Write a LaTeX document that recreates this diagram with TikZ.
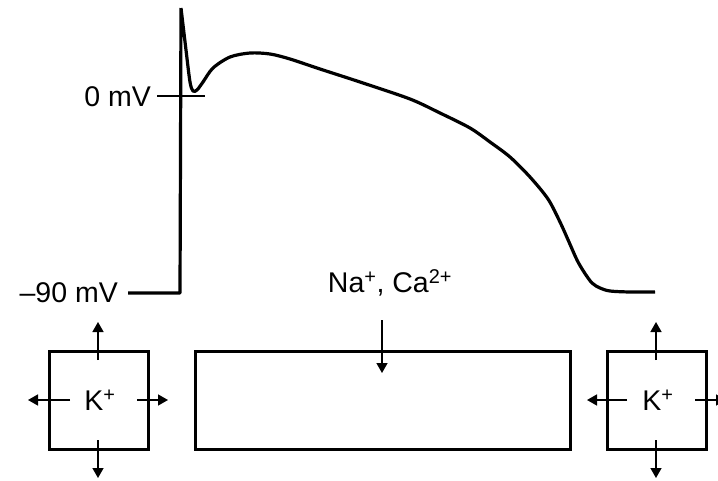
\documentclass[tikz,border=0pt]{standalone}
\usepackage{fontspec}
\setmainfont{Liberation Sans}
\usetikzlibrary{arrows.meta}
\begin{document}
\begin{tikzpicture}[x=1pt,y=-1pt,
  lbl/.style={inner sep=0pt,font=\fontsize{28.5}{30}\selectfont},
  chan/.style={draw,line width=3pt,inner sep=0pt},
  flux/.style={line width=1.5pt,-{Triangle[width=11pt,length=10pt]}},
  trace/.style={line width=3.2pt,line join=round}]
\useasboundingbox (0,0) rectangle (718,480);
% action potential
\draw[trace] (128,293) -- (180,293) -- (181,8)
  plot[smooth,tension=0.5] coordinates {(181,8) (186,50) (190,82) (193,91) (197,90) (203,82) (213,68) (230,57) (250,53) (270,54) (290,59) (320,69) (360,82) (410,99) (440,113) (470,128) (490,142) (510,157) (530,177) (548,199) (560,222) (569,242) (577,260) (584,272) (592,283) (600,288) (610,291) (630,292) (655,292)};
% 0 mV tick
\coordinate (t1) at (157,96);
\coordinate (t2) at (205,96);
\draw[line width=1.6pt] (t1) -- (t2);
\node[lbl,anchor=east] (zero) at (151,97) {0 mV};
\node[lbl,anchor=east] (rest) at (118,293) {–90 mV};
% channels
\node[chan,minimum width=99pt,minimum height=98pt] (kL) at (98.5,400) {};
\node[chan,minimum width=375pt,minimum height=98pt] (mid) at (382.5,400) {};
\node[chan,minimum width=99pt,minimum height=98pt] (kR) at (656.5,400) {};
\node[lbl] (kLt) at (100,400) {K\textsuperscript{+}};
\node[lbl] (kRt) at (658,400) {K\textsuperscript{+}};
\node[lbl] (naca) at (390,283) {Na\textsuperscript{+}, Ca\textsuperscript{2+}};
% left K arrows
\coordinate (lu0) at (98,360); \coordinate (lu1) at (98,322);
\coordinate (ld0) at (98,440); \coordinate (ld1) at (98,478);
\coordinate (ll0) at (70,400); \coordinate (ll1) at (28,400);
\coordinate (lr0) at (137,400); \coordinate (lr1) at (168,400);
\draw[flux] (lu0) -- (lu1);
\draw[flux] (ld0) -- (ld1);
\draw[flux] (ll0) -- (ll1);
\draw[flux] (lr0) -- (lr1);
% right K arrows
\coordinate (ru0) at (656,360); \coordinate (ru1) at (656,322);
\coordinate (rd0) at (656,440); \coordinate (rd1) at (656,478);
\coordinate (rl0) at (627,400); \coordinate (rl1) at (587,400);
\coordinate (rr0) at (695,400); \coordinate (rr1) at (726,400);
\draw[flux] (ru0) -- (ru1);
\draw[flux] (rd0) -- (rd1);
\draw[flux] (rl0) -- (rl1);
\draw[flux] (rr0) -- (rr1);
% Na/Ca arrow
\coordinate (n0) at (382,320); \coordinate (n1) at (382,373);
\draw[flux] (n0) -- (n1);
\end{tikzpicture}
\end{document}
